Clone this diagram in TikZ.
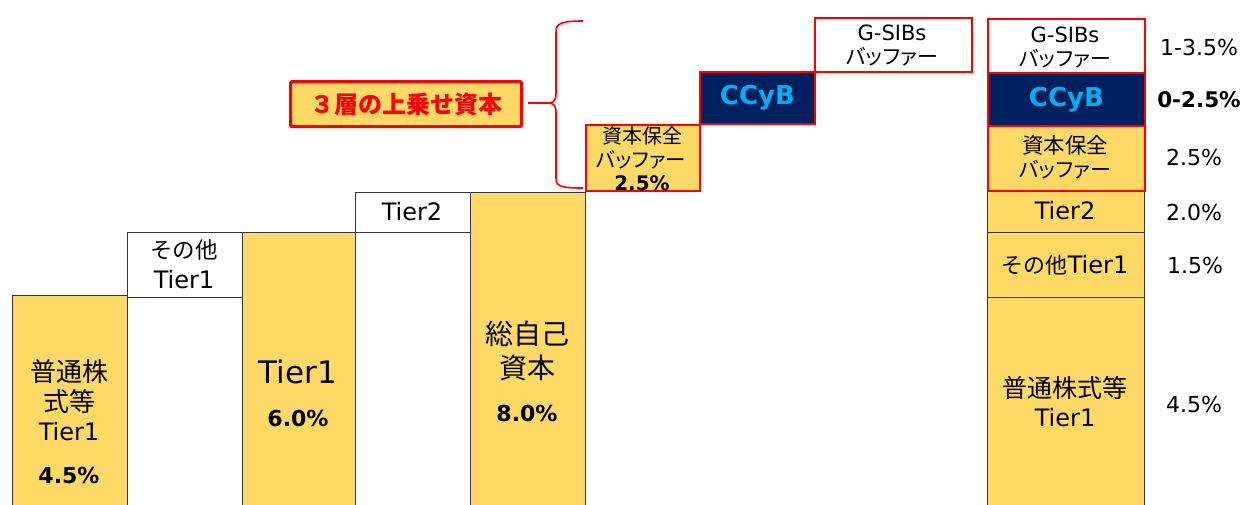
\documentclass[tikz,border=0pt]{standalone}
\usepackage{fontspec}
\setmainfont{DejaVu Sans}
\newfontfamily\jp{Noto Sans CJK JP}
\newfontfamily\jpk[RawFeature=+palt]{Noto Sans CJK JP}
\definecolor{gold}{HTML}{FFD966}
\definecolor{navy}{HTML}{002060}
\definecolor{sky}{HTML}{00B0F0}
\definecolor{edge}{HTML}{363636}
\definecolor{bred}{HTML}{FF0000}
\newcommand{\fsz}[1]{\fontsize{#1}{#1}\selectfont}
\begin{document}
\begin{tikzpicture}[x=1pt,y=-1pt,
  bar/.style={draw=edge, line width=1.3pt, inner sep=0pt, anchor=north west},
  rbar/.style={draw=bred, line width=1.8pt, inner sep=0pt, anchor=north west},
  txt/.style={inner sep=0pt, align=center, text=black},
]
\useasboundingbox (0,0) rectangle (1245,504);
% ---- left staircase
\node[bar, fill=gold, minimum width=115pt, minimum height=215pt] (c1) at (12,295) {};
\node[bar, fill=white, minimum width=115pt, minimum height=65pt] (c2) at (127,232) {};
\draw[edge, line width=1.3pt] (c2.south east) -- ++(0,220);
\node[bar, fill=gold, minimum width=113pt, minimum height=275pt] (c3) at (242,232) {};
\node[bar, fill=white, minimum width=115pt, minimum height=40pt] (c4) at (355,192) {};
\node[bar, fill=gold, minimum width=115pt, minimum height=315pt] (c5) at (470,192) {};
% texts
\node[txt, font=\jp\fsz{26}] (t1a) at (69,372) {普通株};
\node[txt, font=\jp\fsz{26}] (t1b) at (69,402) {式等};
\node[txt, font=\fsz{24}] (t1c) at (69,432) {Tier1};
\node[txt, font=\fsz{22}\bfseries] (p1) at (69,475) {4.5\%};
\node[txt, font=\jp\fsz{22.5}] (t2a) at (184,250) {その他};
\node[txt, font=\fsz{24}] (t2b) at (184,280) {Tier1};
\node[txt, font=\fsz{31}] (t3) at (298,372) {Tier1};
\node[txt, font=\fsz{22}\bfseries] (p3) at (298,418) {6.0\%};
\node[txt, font=\fsz{24}] (t4) at (412,212) {Tier2};
\node[txt, font=\jp\fsz{28}] (t5a) at (527,334) {総自己};
\node[txt, font=\jp\fsz{28}] (t5b) at (527,368) {資本};
\node[txt, font=\fsz{22}\bfseries] (p5) at (527,413) {8.0\%};
% ---- buffers staircase
\node[rbar, fill=gold, minimum width=114pt, minimum height=66pt] (b1) at (585,124) {};
\node[txt, font=\jp\fsz{20}] (bt1a) at (642,136) {資本保全};
\node[txt, font=\jpk\fsz{20.5}] (bt1b) at (641,160) {バッファー};
\node[txt, font=\fsz{20}\bfseries] (bp1) at (642,183) {2.5\%};
\node[rbar, fill=navy, minimum width=115pt, minimum height=52pt] (b2) at (699,71) {};
\node[txt, font=\fsz{26}\bfseries, text=sky] (bt2) at (b2.center) {CCyB};
\node[rbar, fill=white, minimum width=157pt, minimum height=54pt] (b3) at (814,17) {};
\node[txt, font=\fsz{21}] (bt3a) at (892,33) {G-SIBs};
\node[txt, font=\jpk\fsz{21}] (bt3b) at (892,57) {バッファー};
% ---- brace and label
\coordinate (brTip) at (528,103);
\coordinate (brTop) at (583,21);
\coordinate (brBot) at (583,188);
\draw[bred, line width=1.6pt] (brTip) -- (548,103) .. controls (554,103) and (556,100) .. (556,94) -- (556,32) .. controls (556,24) and (560,21) .. (brTop);
\draw[bred, line width=1.6pt] (548,103) .. controls (554,103) and (556,106) .. (556,112) -- (556,178) .. controls (556,186) and (560,188) .. (brBot);
\node[draw=bred, line width=3.2pt, fill=gold, rounded corners=1.5pt, minimum width=231pt, minimum height=45pt, inner sep=0pt, anchor=north west, text=bred, font=\jp\fsz{24}\bfseries] (lab) at (289,80) {３層の上乗せ資本};
% ---- right column
\node[bar, fill=gold, minimum width=157pt, minimum height=210pt] (r6) at (987,297) {};
\node[bar, fill=gold, minimum width=157pt, minimum height=65pt] (r5) at (987,232) {};
\node[bar, fill=gold, minimum width=157pt, minimum height=42pt] (r4) at (987,190) {};
\node[rbar, fill=gold, minimum width=157pt, minimum height=65pt] (r3) at (987,125) {};
\node[rbar, fill=navy, minimum width=157pt, minimum height=53pt] (r2) at (987,72) {};
\node[rbar, fill=white, minimum width=157pt, minimum height=54pt] (r1) at (987,18) {};
\node[txt, font=\fsz{21}] (rt1a) at (1065,35) {G-SIBs};
\node[txt, font=\jpk\fsz{21}] (rt1b) at (1065,59) {バッファー};
\node[txt, font=\fsz{26}\bfseries, text=sky] (rt2) at (r2.center) {CCyB};
\node[txt, font=\jp\fsz{21.5}] (rt3a) at (1065,145) {資本保全};
\node[txt, font=\jpk\fsz{21}] (rt3b) at (1065,170) {バッファー};
\node[txt, font=\fsz{24}] (rt4) at (1065,211) {Tier2};
\node[txt] (rt5) at (1065,265) {{\jp\fsz{22}その他}{\fsz{24}Tier1}};
\node[txt, font=\jp\fsz{25}] (rt6a) at (1065,388) {普通株式等};
\node[txt, font=\fsz{24}] (rt6b) at (1065,418) {Tier1};
% percentages
\node[txt, font=\fsz{22}] (q1) at (1199,47) {1-3.5\%};
\node[txt, font=\fsz{21.5}\bfseries] (q2) at (1199,100) {0-2.5\%};
\node[txt, font=\fsz{22}] (q3) at (1194,157) {2.5\%};
\node[txt, font=\fsz{22}] (q4) at (1194,212) {2.0\%};
\node[txt, font=\fsz{22}] (q5) at (1195,265) {1.5\%};
\node[txt, font=\fsz{22}] (q6) at (1194,404) {4.5\%};
\end{tikzpicture}
\end{document}
